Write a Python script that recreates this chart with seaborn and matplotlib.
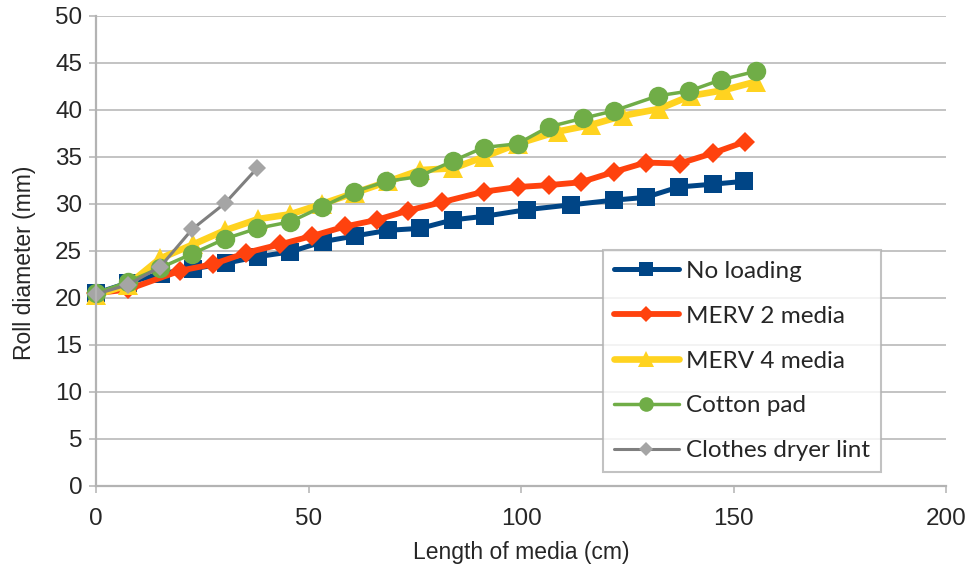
import pandas as pd
import matplotlib
matplotlib.use('Agg')
import matplotlib.pyplot as plt
import seaborn as sns

# data (length in cm, roll diameter in mm)
no_load_x = [0, 7.5, 15.3, 22.9, 30.6, 38.2, 45.7, 53.5, 61.0, 68.8, 76.3,
             83.9, 91.6, 101.5, 111.7, 121.8, 129.3, 137.1, 145.1, 152.4]
no_load_y = [20.5, 21.6, 22.6, 23.1, 23.7, 24.4, 24.9, 26.0, 26.6, 27.2, 27.4,
             28.3, 28.7, 29.4, 29.9, 30.4, 30.7, 31.8, 32.1, 32.4]

merv2_x = [0, 7.5, 19.8, 27.6, 35.3, 43.3, 50.9, 58.6, 66.0, 73.5, 81.5,
           91.2, 99.2, 106.5, 114.0, 121.8, 129.3, 137.3, 145.1, 152.6]
merv2_y = [20.5, 20.9, 22.9, 23.6, 24.8, 25.7, 26.6, 27.6, 28.3, 29.3, 30.2,
           31.3, 31.8, 32.0, 32.3, 33.4, 34.4, 34.3, 35.4, 36.6]

merv4_x = [0, 7.5, 15.1, 22.9, 30.4, 38.2, 45.7, 53.2, 61.0, 68.8, 76.3,
           84.1, 91.2, 99.2, 108.6, 116.4, 124.1, 132.4, 139.9, 147.7, 155.2]
merv4_y = [20.3, 21.4, 24.2, 25.7, 27.2, 28.4, 28.9, 30.0, 31.2, 32.4, 33.6,
           33.8, 35.0, 36.4, 37.7, 38.4, 39.4, 40.1, 41.5, 42.1, 43.0]

cotton_x = [0, 7.5, 15.1, 22.6, 30.4, 37.9, 45.7, 53.2, 60.8, 68.3, 75.9,
            84.1, 91.2, 99.2, 106.5, 114.5, 121.8, 132.2, 139.5, 147.0, 155.2]
cotton_y = [20.5, 21.7, 23.2, 24.7, 26.3, 27.4, 28.1, 29.7, 31.3, 32.4, 32.9,
            34.6, 36.0, 36.4, 38.2, 39.1, 39.9, 41.5, 42.0, 43.2, 44.1]

lint_x = [0, 7.5, 15.1, 22.6, 30.4, 37.9]
lint_y = [20.4, 21.4, 23.3, 27.3, 30.1, 33.8]

x_ticks = [0, 50, 100, 150, 200]
y_ticks = [0, 5, 10, 15, 20, 25, 30, 35, 40, 45, 50]

sns.set_style('white')
plt.rcParams['font.family'] = ['Liberation Sans', 'DejaVu Sans']

fig, ax = plt.subplots(figsize=(9.73, 5.68), dpi=100)
plt.subplots_adjust(left=0.0987, right=0.9723, top=0.972, bottom=0.1444)

# (label, x, y, line colour, marker colour, marker, line width, marker size)
series = [
    ('No loading', no_load_x, no_load_y, '#004586', '#004586', 's', 3.6, 13.5),
    ('MERV 2 media', merv2_x, merv2_y, '#FF420E', '#FF420E', 'D', 4.2, 10.5),
    ('MERV 4 media', merv4_x, merv4_y, '#FFD320', '#FFD320', '^', 4.8, 15),
    ('Cotton pad', cotton_x, cotton_y, '#70AD47', '#70AD47', 'o', 2.5, 14),
    ('Clothes dryer lint', lint_x, lint_y, '#7F7F7F', '#A5A5A5', 'D', 2.2, 8.7),
]

for name, xs, ys, col, mcol, mk, lw, ms in series:
    d = pd.DataFrame({'x': xs, 'y': ys})
    sns.lineplot(data=d, x='x', y='y', ax=ax, color=col, lw=lw, marker=mk,
                 markersize=ms, markerfacecolor=mcol, markeredgecolor=mcol,
                 markeredgewidth=0, label=name, clip_on=False)

ax.set_xlim(0, 200)
ax.set_ylim(0, 50)
ax.set_xticks(x_ticks)
ax.set_yticks(y_ticks)
ax.yaxis.grid(True, color='#B3B3B3', lw=1.1)
ax.xaxis.grid(False)
for s in ['top', 'right']:
    ax.spines[s].set_visible(False)
for s in ['left', 'bottom']:
    ax.spines[s].set_color('#B3B3B3')
    ax.spines[s].set_linewidth(1.6)
ax.tick_params(axis='both', direction='out', length=5, width=1.1,
               color='#B3B3B3', labelsize=17.5, left=True, bottom=True)
ax.tick_params(axis='y', pad=5)
ax.tick_params(axis='x', pad=11)
ax.set_xlabel('Length of media (cm)', fontsize=16.5)
ax.set_ylabel('Roll diameter (mm)', fontsize=16.5)
ax.xaxis.set_label_coords(0.5, -0.117)
ax.yaxis.set_label_coords(-0.071, 0.475)

leg = ax.legend(loc='upper left', bbox_to_anchor=(0.596, 0.502),
                frameon=True, fancybox=False, edgecolor='#B3B3B3',
                prop={'family': 'Lato', 'size': 17.5}, labelspacing=0.98,
                handlelength=2.7, handletextpad=0.3, borderpad=0.45,
                borderaxespad=0)
leg.get_frame().set_linewidth(1.5)
for h, ms in zip(leg.legend_handles, [10, 8, 12, 10.5, 7.5]):
    h.set_markersize(ms)

plt.savefig('out.png', dpi=100)
plt.close()
